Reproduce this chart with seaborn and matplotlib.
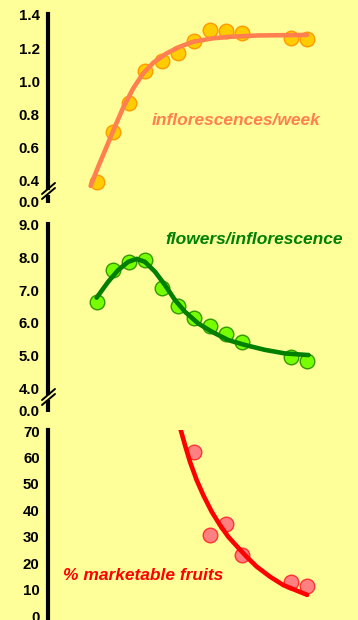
import seaborn as sns
import matplotlib.pyplot as plt
from matplotlib.lines import Line2D

# weeks after start
weeks = [0, 1, 2, 3, 4, 5, 6, 7, 8, 9, 12, 13]
infl_per_week = [0.39, 0.69, 0.865, 1.06, 1.12, 1.17, 1.24, 1.31, 1.30, 1.29, 1.26, 1.255]
flowers_per_infl = [6.63, 7.62, 7.87, 7.93, 7.08, 6.53, 6.14, 5.90, 5.65, 5.40, 4.96, 4.84]
fruit_weeks = [6, 7, 8, 9, 12, 13]
marketable = [62.0, 30.7, 34.7, 23.1, 12.8, 11.5]

# fitted curves
fit1_x = [-0.39, 0.08, 0.6, 1.11, 1.63, 2.25, 2.87, 3.49, 4.32, 5.14, 5.96, 7.2, 8.24, 10.0, 13.0]
fit1_y = [0.365, 0.481, 0.602, 0.723, 0.84, 0.956, 1.047, 1.111, 1.168, 1.208, 1.238, 1.259, 1.268, 1.276, 1.279]
fit2_x = [-0.02, 0.7, 1.32, 1.94, 2.46, 2.97, 3.59, 4.21, 4.83, 5.45, 6.27, 7.1, 8.13, 9.16, 10.4, 11.64, 13.1]
fit2_y = [6.77, 7.26, 7.62, 7.87, 7.96, 7.87, 7.57, 7.16, 6.70, 6.34, 5.98, 5.73, 5.47, 5.32, 5.17, 5.06, 5.01]
fit3_x = [5.18, 5.45, 5.76, 6.17, 6.58, 7.1, 7.62, 8.13, 8.65, 9.27, 9.89, 10.71, 11.54, 12.37, 13.02]
fit3_y = [70.6, 64.7, 58.4, 51.5, 45.8, 39.5, 34.4, 30.0, 26.5, 22.4, 18.7, 14.9, 11.7, 9.6, 8.0]

ticks1 = [0.273, 0.4, 0.6, 0.8, 1.0, 1.2, 1.4]
labels1 = ["0.0", "0.4", "0.6", "0.8", "1.0", "1.2", "1.4"]
ticks2 = [3.325, 4, 5, 6, 7, 8, 9]
labels2 = ["0.0", "4.0", "5.0", "6.0", "7.0", "8.0", "9.0"]
ticks3 = [0, 10, 20, 30, 40, 50, 60, 70]
labels3 = [str(t) for t in ticks3]

bg = '#FFFF99'
sns.set_style("white")
plt.rcParams['font.family'] = ['Liberation Sans', 'DejaVu Sans']

W, H = 358, 620
fig = plt.figure(figsize=(3.58, 6.2), dpi=100, facecolor=bg)
XL = (-3.03, 15.05)


def panel(top, bot, ylim, ticks, labels, brk=None):
    ax = fig.add_axes([48 / W, 1 - bot / H, (340 - 48) / W, (bot - top) / H])
    ax.set_facecolor(bg)
    ax.set_xlim(*XL)
    ax.set_ylim(*ylim)
    for s in ['top', 'right', 'bottom']:
        ax.spines[s].set_visible(False)
    ax.spines['left'].set_linewidth(3)
    ax.spines['left'].set_color('k')
    ax.set_xticks([])
    ax.set_yticks(ticks)
    ax.set_yticklabels(labels, fontweight='bold')
    ax.tick_params(axis='y', direction='out', length=3, width=3, labelsize=10.8, pad=3, colors='k')
    if brk is not None:
        ax.spines['left'].set_bounds(brk[0], ylim[1])
        ax.plot([XL[0], XL[0]], [ylim[0], brk[1]], color='k', lw=3,
                solid_capstyle='butt', clip_on=False)
    return ax


def slashes(dy):
    for off in (0, 5):
        fig.add_artist(Line2D([42 / W, 55 / W],
                              [1 - (194 + off + dy) / H, 1 - (183 + off + dy) / H],
                              transform=fig.transFigure, color='k', lw=1.4))


# panel 1: inflorescences/week
ax1 = panel(14, 203, (0.261, 1.406), ticks1, labels1, brk=(0.352, 0.309))
sns.scatterplot(x=weeks, y=infl_per_week, ax=ax1, s=110, color='#FFCC00',
                edgecolor='#FF9900', linewidth=1, zorder=2, clip_on=False)
sns.lineplot(x=fit1_x, y=fit1_y, ax=ax1, color='#FF7F50', lw=3.3, zorder=3)
slashes(0)

# panel 2: flowers/inflorescence
ax2 = panel(224, 412, (3.264, 9.03), ticks2, labels2, brk=(3.847, 3.632))
sns.scatterplot(x=weeks, y=flowers_per_infl, ax=ax2, s=110, color='#77FF00',
                edgecolor='#339900', linewidth=1, zorder=2, clip_on=False)
sns.lineplot(x=fit2_x, y=fit2_y, ax=ax2, color='#007F00', lw=3.3, zorder=3)
slashes(206)

# panel 3: % marketable fruits
ax3 = panel(430, 620, (-1.51, 70.38), ticks3, labels3)
sns.scatterplot(x=fruit_weeks, y=marketable, ax=ax3, s=110, color='#FF8080',
                edgecolor='#FF3333', linewidth=1, zorder=2, clip_on=False)
sns.lineplot(x=fit3_x, y=fit3_y, ax=ax3, color='#FF0000', lw=3.3, zorder=3)

lab = dict(fontsize=12.5, fontweight='bold', fontstyle='italic', ha='center', va='center')
fig.text(236 / W, 1 - 120 / H, 'inflorescences/week', color='#FF7F50', **lab)
fig.text(254 / W, 1 - 239 / H, 'flowers/inflorescence', color='#008000', **lab)
fig.text(143 / W, 1 - 575 / H, '% marketable fruits', color='#FF0000', **lab)

plt.savefig('out.png', dpi=100, facecolor=bg)
